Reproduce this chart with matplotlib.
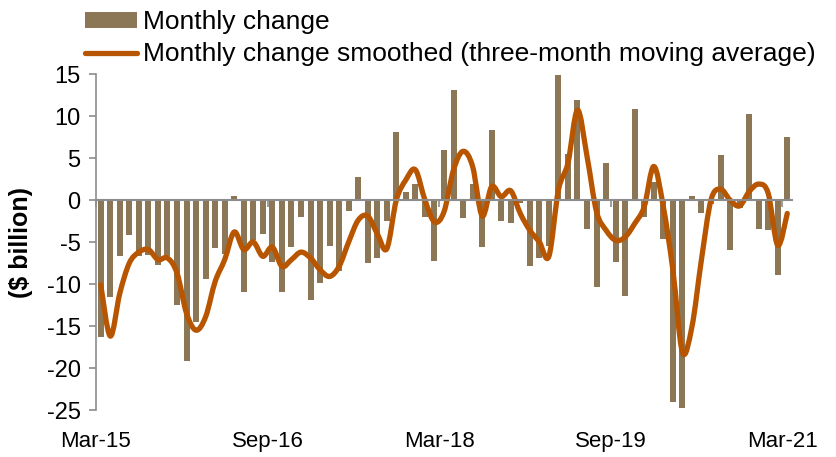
import numpy as np
import matplotlib.pyplot as plt
from matplotlib.path import Path
from matplotlib.patches import PathPatch
from matplotlib.lines import Line2D
from matplotlib.patches import Patch

plt.rcParams['font.family'] = ['Liberation Sans', 'DejaVu Sans']
plt.rcParams['axes.unicode_minus'] = False

# monthly change, Mar-15 .. Mar-21 ($ billion)
monthly = [-16.3, -11.6, -6.7, -4.2, -6.7, -6.5, -7.7, -6.7, -12.5, -19.2,
           -14.5, -9.4, -5.7, -6.4, 0.5, -11.0, -4.8, -4.1, -7.4, -11.0,
           -5.6, -2.0, -11.9, -9.9, -5.5, -8.4, -1.3, 2.8, -7.5, -6.9,
           -2.5, 8.1, 0.9, 1.9, -2.0, -7.3, 6.0, 13.1, -2.1, 1.9,
           -5.6, 8.3, -2.5, -2.7, -0.3, -7.9, -6.9, -5.5, 14.9, 5.5,
           11.9, -3.5, -10.3, 4.4, -7.4, -11.4, 10.8, -2.0, 2.2, -4.6,
           -24.0, -24.8, 0.5, -1.6, -0.5, 5.4, -6.0, -1.0, 10.2, -3.4,
           -3.6, -8.9, 7.5]

# three-month moving average as plotted
smoothed = [-10.1, -16.2, -11.1, -7.5, -6.2, -5.9, -7.1, -6.9, -8.7, -13.5,
            -15.5, -13.9, -9.7, -7.1, -3.8, -5.9, -5.0, -6.7, -5.6, -7.9,
            -7.1, -6.2, -6.9, -8.3, -9.1, -7.9, -5.0, -2.4, -1.9, -4.0,
            -5.8, 0.0, 2.4, 3.6, 0.0, -2.6, -1.4, 3.6, 5.8, 4.0,
            -1.9, 1.6, 0.4, 1.1, -1.6, -3.6, -5.0, -6.7, 1.2, 4.4,
            10.7, 5.2, -1.4, -3.6, -4.8, -4.4, -2.8, -0.8, 4.0, -0.8,
            -8.3, -18.1, -15.1, -7.1, 0.0, 1.3, 0.0, -0.7, 1.0, 1.9,
            0.8, -5.4, -1.6]

tick_pos = [0, 18, 36, 54, 72]
tick_labels = ['Mar-15', 'Sep-16', 'Mar-18', 'Sep-19', 'Mar-21']

bar_col = '#8B7755'
line_col = '#B85500'
grey = '#8C8C8C'

x = np.arange(len(monthly))
y = np.array(smoothed, dtype=float)

fig = plt.figure(figsize=(8.36, 4.57), dpi=100)
ax = fig.add_axes([0.1148, 0.1028, 0.8326, 0.7352])

ax.bar(x, monthly, width=0.63, color=bar_col, zorder=2)

# smoothed curve (catmull-rom style bezier, like excel's smoothed line)
verts = [(x[0], y[0])]
codes = [Path.MOVETO]
n = len(x)
for i in range(n - 1):
    p0 = np.array([x[max(i - 1, 0)], y[max(i - 1, 0)]])
    p1 = np.array([x[i], y[i]])
    p2 = np.array([x[i + 1], y[i + 1]])
    p3 = np.array([x[min(i + 2, n - 1)], y[min(i + 2, n - 1)]])
    c1 = p1 + (p2 - p0) / 6.0
    c2 = p2 - (p3 - p1) / 6.0
    verts += [tuple(c1), tuple(c2), tuple(p2)]
    codes += [Path.CURVE4] * 3
ax.add_patch(PathPatch(Path(verts, codes), fill=False, edgecolor=line_col,
                       lw=3.8, capstyle='round', joinstyle='round', zorder=3))

ax.set_xlim(-0.5, len(monthly) - 0.5)
ax.set_ylim(-25, 15)
ax.set_yticks(range(-25, 16, 5))

for s in ['top', 'right']:
    ax.spines[s].set_visible(False)
ax.spines['left'].set_color(grey)
ax.spines['left'].set_linewidth(1.2)
ax.spines['bottom'].set_position(('data', 0))
ax.spines['bottom'].set_color(grey)
ax.spines['bottom'].set_linewidth(1.5)
ax.spines['bottom'].set_zorder(4)

ax.set_xticks([p - 0.5 for p in tick_pos])
ax.tick_params(axis='x', direction='out', length=5, color=grey, width=1.2,
               labelbottom=False)
ax.tick_params(axis='y', direction='out', length=5, color=grey, width=1.2,
               labelsize=17, pad=6)

sec = ax.secondary_xaxis('bottom')
sec.set_xticks([p - 0.5 for p in tick_pos])
sec.set_xticklabels(tick_labels)
sec.tick_params(length=0, labelsize=16, pad=15)
sec.spines['bottom'].set_visible(False)

ax.set_ylabel('($ billion)', fontsize=18, fontweight='bold', labelpad=10)

handles = [Patch(facecolor=bar_col, edgecolor='none'),
           Line2D([0], [0], color=line_col, lw=3.8, solid_capstyle='round')]
fig.legend(handles, ['Monthly change',
                     'Monthly change smoothed (three-month moving average)'],
           loc='upper left', bbox_to_anchor=(0.098, 0.984), frameon=False,
           fontsize=19, handlelength=2.0, handleheight=0.55,
           handletextpad=0.2, labelspacing=0.32, borderaxespad=0,
           borderpad=0.1)

fig.savefig('out.png', dpi=100)
